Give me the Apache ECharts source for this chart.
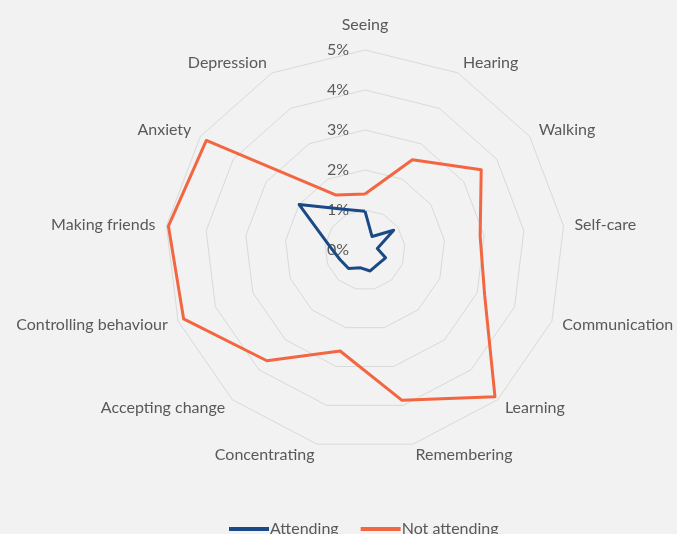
<!DOCTYPE html>
<html>
<head>
<meta charset="utf-8">
<script src="https://cdn.jsdelivr.net/npm/echarts@6/dist/echarts.min.js"></script>
<style>
html,body{margin:0;padding:0;background:#f2f2f2;}
#chart{width:677px;height:534px;}
</style>
</head>
<body>
<div id="chart"></div>
<script>
// Categories listed clockwise from the top
const categories = ['Seeing','Hearing','Walking','Self-care','Communication','Learning','Remembering','Concentrating','Accepting change','Controlling behaviour','Making friends','Anxiety','Depression'];
const attending = [0.97, 0.38, 0.87, 0.31, 0.55, 0.48, 0.54, 0.46, 0.62, 0.67, 0.90, 2.00, 1.15];
const notAttending = [1.40, 2.55, 3.53, 2.90, 3.20, 4.90, 3.87, 2.60, 3.70, 4.85, 4.95, 4.82, 1.55];
const axisMax = 5;
const seriesNames = ['Attending', 'Not attending'];

// ECharts radar runs counter-clockwise: keep first, reverse the rest
function ccw(arr){ return [arr[0]].concat(arr.slice(1).reverse()); }

const textColor = '#595959';
const font = 'Lato';
const fs = 16;

const indicator = ccw(categories).map((n, i) => {
  const o = { name: n, min: 0, max: axisMax };
  if (i === 0) {
    o.nameGap = 17;
    o.axisLabel = { show: true, color: textColor, fontSize: fs, fontFamily: font,
      align: 'right', padding: [0, 8, 0, 0],
      formatter: v => v + '%' };
  }
  return o;
});

const chart = echarts.init(document.getElementById('chart'), null, {renderer: 'canvas'});
chart.setOption({
  backgroundColor: '#f2f2f2',
  animation: false,
  legend: {
    data: seriesNames,
    top: 516,
    left: 224,
    icon: 'rect',
    itemWidth: 40,
    itemHeight: 4,
    itemGap: 22,
    textStyle: { color: textColor, fontSize: fs, fontFamily: font, padding: [0,0,0,-4] }
  },
  radar: {
    center: [365, 250],
    radius: 200,
    startAngle: 90,
    splitNumber: 5,
    shape: 'polygon',
    indicator: indicator,
    nameGap: 11,
    axisName: { color: textColor, fontSize: fs, fontFamily: font },
    axisLine: { show: false },
    axisTick: { show: false },
    axisLabel: { show: false },
    splitLine: { lineStyle: { color: '#d9d9d9', width: 1 } },
    splitArea: { show: false }
  },
  series: [{
    type: 'radar',
    symbol: 'none',
    data: [
      { name: seriesNames[0], value: ccw(attending),
        lineStyle: { color: '#1a4a86', width: 3 }, itemStyle: { color: '#1a4a86' } },
      { name: seriesNames[1], value: ccw(notAttending),
        lineStyle: { color: '#f26641', width: 3 }, itemStyle: { color: '#f26641' } }
    ]
  }]
});
</script>
</body>
</html>
